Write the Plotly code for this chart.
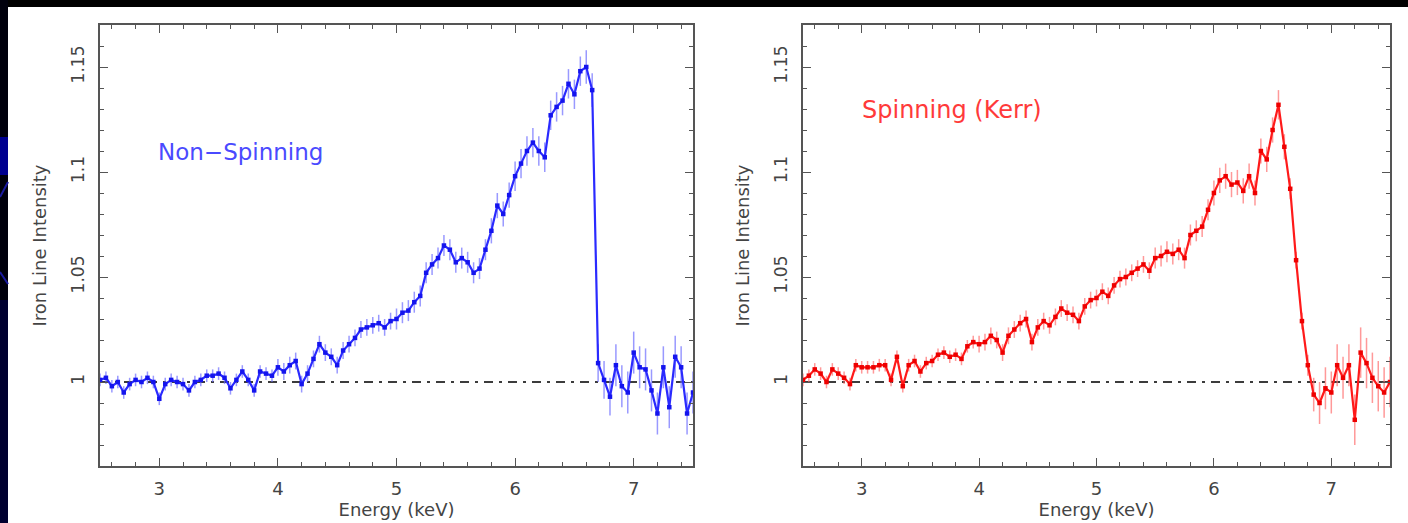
import plotly.graph_objects as go

# ---------------- data ----------------
energy_ns = [2.50, 2.55, 2.60, 2.65, 2.70, 2.75, 2.80, 2.85, 2.90, 2.95,
             3.00, 3.05, 3.10, 3.15, 3.20, 3.25, 3.30, 3.35, 3.40, 3.45,
             3.50, 3.55, 3.60, 3.65, 3.70, 3.75, 3.80, 3.85, 3.90, 3.95,
             4.00, 4.05, 4.10, 4.15, 4.20, 4.25, 4.30, 4.35, 4.40, 4.45,
             4.50, 4.55, 4.60, 4.65, 4.70, 4.75, 4.80, 4.85, 4.90, 4.95,
             5.00, 5.05, 5.10, 5.15, 5.20, 5.25, 5.30, 5.35, 5.40, 5.45,
             5.50, 5.55, 5.60, 5.65, 5.70, 5.75, 5.80, 5.85, 5.90, 5.95,
             6.00, 6.05, 6.10, 6.15, 6.20, 6.25, 6.30, 6.35, 6.40, 6.45,
             6.50, 6.55, 6.60, 6.65, 6.70, 6.75, 6.80, 6.85, 6.90, 6.95,
             7.00, 7.05, 7.10, 7.15, 7.20, 7.25, 7.30, 7.35, 7.40, 7.45, 7.50]
intensity_ns = [1.001, 1.002, 0.998, 1.000, 0.995, 0.999, 1.001, 1.000, 1.002, 1.000,
                0.992, 0.999, 1.001, 1.000, 0.999, 0.996, 1.000, 1.001, 1.003, 1.003,
                1.004, 1.002, 0.997, 1.001, 1.005, 1.001, 0.996, 1.005, 1.004, 1.003,
                1.007, 1.005, 1.008, 1.010, 0.999, 1.004, 1.011, 1.018, 1.014, 1.012,
                1.008, 1.015, 1.018, 1.021, 1.025, 1.026, 1.027, 1.028, 1.026, 1.029,
                1.030, 1.033, 1.034, 1.038, 1.041, 1.052, 1.056, 1.059, 1.065, 1.063,
                1.057, 1.059, 1.057, 1.052, 1.054, 1.063, 1.072, 1.084, 1.080, 1.089,
                1.098, 1.104, 1.110, 1.114, 1.110, 1.107, 1.127, 1.131, 1.134, 1.142,
                1.137, 1.148, 1.150, 1.139, 1.009, 1.001, 0.993, 1.008, 0.998, 0.995,
                1.014, 1.007, 1.006, 0.996, 0.985, 1.007, 0.988, 1.012, 1.007, 0.985, 0.995]
error_ns = [0.003, 0.003, 0.003, 0.003, 0.003, 0.003, 0.003, 0.003, 0.003, 0.003,
            0.003, 0.003, 0.003, 0.003, 0.003, 0.003, 0.003, 0.003, 0.003, 0.003,
            0.003, 0.003, 0.003, 0.003, 0.003, 0.003, 0.003, 0.003, 0.003, 0.003,
            0.004, 0.004, 0.004, 0.004, 0.004, 0.004, 0.004, 0.004, 0.004, 0.004,
            0.004, 0.004, 0.004, 0.004, 0.004, 0.004, 0.004, 0.004, 0.004, 0.004,
            0.005, 0.005, 0.005, 0.005, 0.005, 0.005, 0.005, 0.005, 0.005, 0.005,
            0.005, 0.005, 0.005, 0.005, 0.005, 0.005, 0.006, 0.006, 0.006, 0.006,
            0.007, 0.007, 0.007, 0.007, 0.007, 0.007, 0.007, 0.007, 0.007, 0.007,
            0.007, 0.007, 0.008, 0.008, 0.009, 0.009, 0.009, 0.010, 0.010, 0.010,
            0.010, 0.010, 0.010, 0.010, 0.010, 0.010, 0.010, 0.010, 0.010, 0.010, 0.010]

energy_kerr = [2.50, 2.55, 2.60, 2.65, 2.70, 2.75, 2.80, 2.85, 2.90, 2.95,
               3.00, 3.05, 3.10, 3.15, 3.20, 3.25, 3.30, 3.35, 3.40, 3.45,
               3.50, 3.55, 3.60, 3.65, 3.70, 3.75, 3.80, 3.85, 3.90, 3.95,
               4.00, 4.05, 4.10, 4.15, 4.20, 4.25, 4.30, 4.35, 4.40, 4.45,
               4.50, 4.55, 4.60, 4.65, 4.70, 4.75, 4.80, 4.85, 4.90, 4.95,
               5.00, 5.05, 5.10, 5.15, 5.20, 5.25, 5.30, 5.35, 5.40, 5.45,
               5.50, 5.55, 5.60, 5.65, 5.70, 5.75, 5.80, 5.85, 5.90, 5.95,
               6.00, 6.05, 6.10, 6.15, 6.20, 6.25, 6.30, 6.35, 6.40, 6.45,
               6.50, 6.55, 6.60, 6.65, 6.70, 6.75, 6.80, 6.85, 6.90, 6.95,
               7.00, 7.05, 7.10, 7.15, 7.20, 7.25, 7.30, 7.35, 7.40, 7.45, 7.50]
intensity_kerr = [1.001, 1.003, 1.006, 1.004, 1.000, 1.006, 1.004, 1.002, 0.999, 1.008,
                  1.007, 1.007, 1.007, 1.008, 1.008, 1.001, 1.012, 0.998, 1.008, 1.010,
                  1.005, 1.009, 1.010, 1.013, 1.014, 1.012, 1.013, 1.011, 1.017, 1.019,
                  1.018, 1.019, 1.022, 1.020, 1.014, 1.022, 1.025, 1.028, 1.030, 1.019,
                  1.026, 1.029, 1.027, 1.031, 1.035, 1.033, 1.032, 1.029, 1.036, 1.039,
                  1.040, 1.043, 1.041, 1.046, 1.049, 1.050, 1.052, 1.054, 1.056, 1.053,
                  1.059, 1.060, 1.062, 1.061, 1.063, 1.059, 1.070, 1.072, 1.074, 1.082,
                  1.090, 1.096, 1.098, 1.094, 1.095, 1.091, 1.098, 1.090, 1.110, 1.106,
                  1.120, 1.132, 1.112, 1.092, 1.058, 1.029, 1.008, 0.994, 0.990, 0.997,
                  0.995, 1.008, 1.002, 1.008, 0.982, 1.014, 1.009, 1.002, 0.998, 0.995, 1.000]
error_kerr = [0.003, 0.003, 0.003, 0.003, 0.003, 0.003, 0.003, 0.003, 0.003, 0.003,
              0.003, 0.003, 0.003, 0.003, 0.003, 0.003, 0.003, 0.003, 0.003, 0.003,
              0.003, 0.003, 0.003, 0.003, 0.003, 0.003, 0.003, 0.003, 0.003, 0.003,
              0.004, 0.004, 0.004, 0.004, 0.004, 0.004, 0.004, 0.004, 0.004, 0.004,
              0.004, 0.004, 0.004, 0.004, 0.004, 0.004, 0.004, 0.004, 0.004, 0.004,
              0.004, 0.004, 0.004, 0.004, 0.004, 0.004, 0.004, 0.004, 0.004, 0.004,
              0.005, 0.005, 0.005, 0.005, 0.005, 0.005, 0.005, 0.005, 0.005, 0.005,
              0.006, 0.006, 0.006, 0.006, 0.006, 0.006, 0.006, 0.006, 0.006, 0.006,
              0.006, 0.007, 0.006, 0.005, 0.004, 0.004, 0.005, 0.008, 0.010, 0.010,
              0.010, 0.010, 0.010, 0.010, 0.012, 0.012, 0.012, 0.012, 0.012, 0.012, 0.012]

x_ticks = [3, 4, 5, 6, 7]
x_tick_text = ["3", "4", "5", "6", "7"]
y_ticks = [1.0, 1.05, 1.1, 1.15]
y_tick_text = ["1", "1.05", "1.1", "1.15"]
x_range = [2.5, 7.5]
y_range = [0.96, 1.17]
baseline = 1.0
label_ns = "Non\u2212Spinning"
label_kerr = "Spinning (Kerr)"
x_title = "Energy (keV)"
y_title = "Iron Line Intensity"

# ---------------- figure ----------------
W, H = 1408, 523
fig = go.Figure()

FONT = "DejaVu Sans"
AX = "#555555"
TXT = "#444444"


def px_x(p):
    return p / W


def px_y(p):
    return 1 - p / H


fig.add_trace(go.Scatter(
    x=energy_ns, y=intensity_ns,
    error_y=dict(type="data", array=error_ns, color="rgba(110,110,255,0.7)", thickness=1.5, width=0),
    mode="lines+markers",
    line=dict(color="#2a2aff", width=2.2),
    marker=dict(symbol="square", size=4.5, color="#1414ee"),
    xaxis="x", yaxis="y", showlegend=False))

fig.add_trace(go.Scatter(
    x=energy_kerr, y=intensity_kerr,
    error_y=dict(type="data", array=error_kerr, color="rgba(255,110,110,0.7)", thickness=1.5, width=0),
    mode="lines+markers",
    line=dict(color="#ff1a1a", width=2.2),
    marker=dict(symbol="square", size=4.5, color="#ee0000"),
    xaxis="x2", yaxis="y2", showlegend=False))

# baseline dash-dot lines
for xa, ya in (("x", "y"), ("x2", "y2")):
    fig.add_shape(type="line", xref=xa, yref=ya, x0=x_range[0], x1=x_range[1],
                  y0=baseline, y1=baseline,
                  line=dict(color="#3c3c3c", width=1.8, dash="9px,6px,3px,6px"), layer="below")

common_x = dict(range=x_range, tickvals=x_ticks, ticktext=x_tick_text,
                ticks="inside", ticklen=8, tickwidth=1.3, tickcolor=AX,
                showline=True, linecolor=AX, linewidth=2, mirror="allticks",
                showgrid=False, zeroline=False,
                minor=dict(dtick=0.2, tick0=2.6, ticks="inside", ticklen=4, tickcolor=AX, tickwidth=1.1, showgrid=False),
                tickfont=dict(family=FONT, size=18, color=TXT),
                ticklabelstandoff=5,
                title=dict(text=x_title, font=dict(family=FONT, size=18, color=TXT), standoff=2))
common_y = dict(range=y_range, tickvals=y_ticks, ticktext=y_tick_text,
                ticks="inside", ticklen=8, tickwidth=1.3, tickcolor=AX,
                showline=True, linecolor=AX, linewidth=2, mirror="allticks",
                showgrid=False, zeroline=False, tickangle=-90,
                minor=dict(dtick=0.01, tick0=0.96, ticks="inside", ticklen=4, tickcolor=AX, tickwidth=1.1, showgrid=False),
                tickfont=dict(family=FONT, size=17, color=TXT),
                ticklabelstandoff=7,
                title=dict(text=y_title, font=dict(family=FONT, size=18, color=TXT), standoff=17))

y_dom = [px_y(466), px_y(25)]
fig.update_layout(
    width=W, height=H,
    margin=dict(l=0, r=0, t=0, b=0),
    paper_bgcolor="white", plot_bgcolor="white",
    xaxis=dict(domain=[px_x(100), px_x(693)], anchor="y", **common_x),
    yaxis=dict(domain=y_dom, anchor="x", **common_y),
    xaxis2=dict(domain=[px_x(803), px_x(1390)], anchor="y2", **common_x),
    yaxis2=dict(domain=y_dom, anchor="x2", **common_y),
)

# text labels
fig.add_annotation(xref="paper", yref="paper", x=px_x(156), y=px_y(152), xanchor="left", yanchor="middle",
                   text=label_ns, showarrow=False, font=dict(family=FONT, size=23, color="#4a4aff"))
fig.add_annotation(xref="paper", yref="paper", x=px_x(860), y=px_y(110), xanchor="left", yanchor="middle",
                   text=label_kerr, showarrow=False, font=dict(family=FONT, size=24, color="#ff3a3a"))

# slide decoration: top black band and left dark strip
fig.add_shape(type="rect", xref="paper", yref="paper", x0=-0.01, x1=1.01, y0=px_y(7), y1=1.02,
              fillcolor="black", line=dict(width=0), layer="above")
fig.add_shape(type="rect", xref="paper", yref="paper", x0=-0.01, x1=px_x(8), y0=px_y(300), y1=1.02,
              fillcolor="#00000c", line=dict(width=0), layer="above")
fig.add_shape(type="rect", xref="paper", yref="paper", x0=-0.01, x1=px_x(8), y0=-0.02, y1=px_y(300),
              fillcolor="#000030", line=dict(width=0), layer="above")
fig.add_shape(type="rect", xref="paper", yref="paper", x0=-0.01, x1=px_x(8), y0=px_y(175), y1=px_y(137),
              fillcolor="#000090", line=dict(width=0), layer="above")
fig.add_shape(type="line", xref="paper", yref="paper", x0=0, x1=px_x(8), y0=px_y(197), y1=px_y(182),
              line=dict(color="#1a1aa0", width=2), layer="above")
fig.add_shape(type="line", xref="paper", yref="paper", x0=0, x1=px_x(8), y0=px_y(272), y1=px_y(284),
              line=dict(color="#1a1aa0", width=2), layer="above")

fig.write_html("out.html", config={"displayModeBar": False},
               post_script="document.body.style.margin='0';document.body.style.overflow='hidden';")
